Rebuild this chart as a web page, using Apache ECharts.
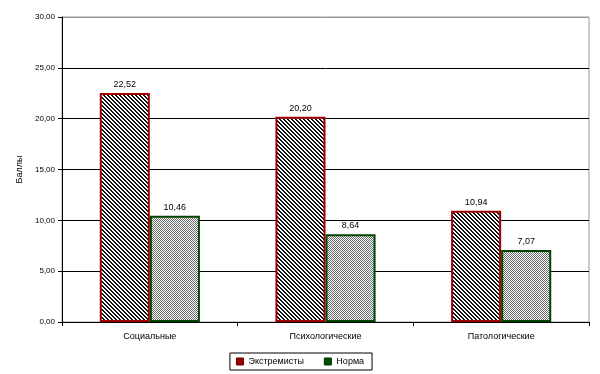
<!DOCTYPE html>
<html><head><meta charset="utf-8">
<script src="https://cdn.jsdelivr.net/npm/echarts@6/dist/echarts.min.js"></script>
<style>html,body{margin:0;padding:0;background:#fff}#c{width:600px;height:374px}</style>
</head><body><div id="c"></div>
<script>
const categories = ['Социальные', 'Психологические', 'Патологические'];
const seriesNames = ['Экстремисты', 'Норма'];
const extremists = [22.52, 20.20, 10.94];
const norma = [10.46, 8.64, 7.07];
const yTicks = [0, 5, 10, 15, 20, 25, 30];

function hatch() {
  const c = document.createElement('canvas'); c.width = 4; c.height = 4;
  const g = c.getContext('2d'); g.fillStyle = '#fff'; g.fillRect(0,0,4,4);
  g.fillStyle = '#111';
  for (let y = 0; y < 4; y++) for (let x = 0; x < 4; x++) {
    const d = ((x - y) % 4 + 4) % 4; if (d === 0 || d === 1) g.fillRect(x, y, 1, 1);
  }
  return c;
}
function checker() {
  const c = document.createElement('canvas'); c.width = 2; c.height = 2;
  const g = c.getContext('2d'); g.fillStyle = '#fff'; g.fillRect(0,0,2,2);
  g.fillStyle = '#6a6a6a'; g.fillRect(0,0,1,1); g.fillRect(1,1,1,1);
  return c;
}
const fmt = v => v.toFixed(2).replace('.', ',');
const font = 'Liberation Sans, Arial, sans-serif';
const chart = echarts.init(document.getElementById('c'), null, {renderer: 'canvas'});
chart.setOption({
  animation: false,
  textStyle: {fontFamily: font},
  grid: {left: 62, right: 11, top: 17, bottom: 52, show: true, borderColor: '#999', borderWidth: 1},
  legend: {
    data: [
      {name: seriesNames[0], icon: 'rect', itemStyle: {color: '#a00000', borderColor: '#600000', borderWidth: 1}},
      {name: seriesNames[1], icon: 'rect', itemStyle: {color: '#005000', borderColor: '#003000', borderWidth: 1}}
    ],
    bottom: 4, left: 'center', itemWidth: 7, itemHeight: 7, itemGap: 20,
    borderColor: '#000', borderWidth: 1, padding: [4, 8, 4, 6],
    textStyle: {fontSize: 9, color: '#000', fontFamily: font}
  },
  xAxis: {
    type: 'category', data: categories,
    axisLine: {lineStyle: {color: '#000', width: 1}},
    axisTick: {show: true, length: 4, lineStyle: {color: '#000'}},
    axisLabel: {fontSize: 9, color: '#000', margin: 10}
  },
  yAxis: {
    type: 'value', min: 0, max: 30, interval: 5,
    name: 'Баллы', nameLocation: 'middle', nameGap: 34, nameRotate: 90,
    nameTextStyle: {fontSize: 9, color: '#000'},
    axisLine: {show: true, lineStyle: {color: '#000'}},
    axisTick: {show: true, length: 4, lineStyle: {color: '#000'}},
    axisLabel: {fontSize: 8, color: '#000', formatter: v => fmt(v), margin: 7},
    splitLine: {lineStyle: {color: yTicks.map(t => t === 30 ? '#999' : '#000'), width: 1}}
  },
  series: [
    {
      name: seriesNames[0], type: 'bar', data: extremists, barWidth: '28.5%', barGap: '0%',
      barCategoryGap: '43%',
      itemStyle: {color: {image: hatch(), repeat: 'repeat'}, borderColor: '#a00000', borderWidth: 2},
      label: {show: true, position: 'top', fontSize: 9, color: '#000', formatter: p => fmt(p.value), distance: 4}
    },
    {
      name: seriesNames[1], type: 'bar', data: norma, barWidth: '28.5%', barGap: '0%',
      itemStyle: {color: {image: checker(), repeat: 'repeat'}, borderColor: '#004400', borderWidth: 2},
      label: {show: true, position: 'top', fontSize: 9, color: '#000', formatter: p => fmt(p.value), distance: 4}
    }
  ]
});
</script></body></html>
